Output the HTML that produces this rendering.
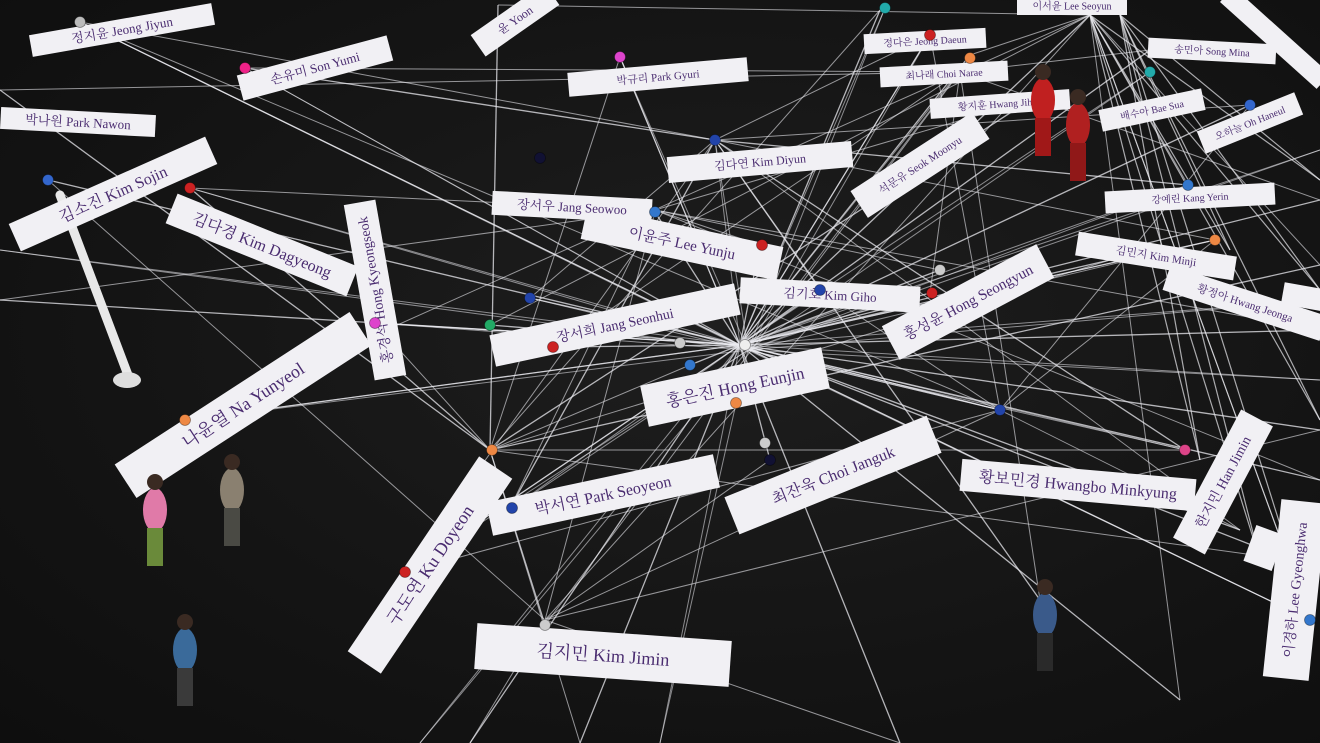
<!DOCTYPE html>
<html><head><meta charset="utf-8"><style>
html,body{margin:0;padding:0;background:#141414;}
#wrap{position:relative;width:1320px;height:743px;overflow:hidden;background:radial-gradient(ellipse at 55% 45%,#1e1e1e 0%,#141414 60%,#0e0e0e 100%);}
svg{position:absolute;left:0;top:0;}
</style></head><body>
<div id="wrap">
<svg id="s" width="1320" height="743" viewBox="0 0 1320 743"></svg>
</div>
<script>
const labelText=["정지윤 Jeong Jiyun","손유미 Son Yumi","박나원 Park Nawon","김소진 Kim Sojin","김다경 Kim Dagyeong","홍경석 Hong Kyeongseok","나윤열 Na Yunyeol","구도연 Ku Doyeon","김지민 Kim Jimin","박서연 Park Seoyeon","최잔욱 Choi Janguk","홍은진 Hong Eunjin","장서희 Jang Seonhui","이윤주 Lee Yunju","장서우 Jang Seowoo","김다연 Kim Diyun","박규리 Park Gyuri","윤 Yoon","김기호 Kim Giho","홍성윤 Hong Seongyun","석문유 Seok Moonyu","정다은 Jeong Daeun","최나래 Choi Narae","황지훈 Hwang Jihun","이서윤 Lee Seoyun","송민아 Song Mina","배수아 Bae Sua","오하늘 Oh Haneul","강예린 Kang Yerin","김민지 Kim Minji","황정아 Hwang Jeonga","","황보민경 Hwangbo Minkyung","한지민 Han Jimin","이경하 Lee Gyeonghwa","",""];
const labelCx=[122,315,78,113,262,375,243,430,603,603,833,735,615,682,572,760,658,515,830,968,920,925,944,1000,1072,1212,1152,1250,1190,1156,1245,1305,1078,1223,1295,1275,1264];
const labelCy=[30,68,122,194,245,290,405,565,655,495,475,387,325,243,207,162,77,20,295,302,165,41,74,104,6,51,110,123,198,256,303,297,485,482,590,38,548];
const labelW=[185,155,155,215,195,178,280,235,255,232,218,185,250,200,160,185,180,90,180,175,145,122,128,140,110,128,105,105,170,160,165,45,235,145,178,130,38];
const labelH=[22,26,22,30,32,32,40,40,46,34,40,42,32,34,24,26,24,26,26,38,32,20,20,20,18,20,22,24,22,24,26,22,32,36,46,20,30];
const labelRot=[-10,-15,3,-24,22,-100,-33,-56,4,-12,-22,-12,-12,12,3,-5,-5,-35,3,-28,-33,-3,-3,-4,0,3,-12,-22,-3,9,18,10,5,-62,-84,42,-70];
const labelFont=[13,13,13,16,16,14,18,18,18,16,16,17,14,15,13,12,11,12,13,15,11,10,10,10,10,10,10,10,10,11,11,10,16,14,14,10,10];

const hubs=[[740,345],[715,140],[1090,15],[490,450],[545,620],[655,210],[960,72],[1000,410]];
const lineEnds=[[80,22],[245,68],[190,188],[48,180],[375,323],[185,420],[405,572],[545,625],[510,508],[770,460],[690,365],[490,325],[530,298],[555,347],[760,245],[655,212],[620,57],[498,5],[820,290],[930,293],[940,270],[1000,410],[1185,450],[1310,620],[1215,240],[1320,200],[1320,330],[1320,430],[1290,560],[1188,185],[1250,105],[1150,50],[1030,100],[1090,15],[880,10],[970,55],[930,35],[0,90],[0,300],[470,743],[580,743],[1180,700],[1240,530],[1040,600],[1320,480],[900,743],[1110,260],[1320,265]];
const hubExtra=[[80,22],[245,68],[190,188],[375,323],[185,420],[405,572],[512,508],[620,57],[715,140],[930,35],[970,58],[1150,72],[1188,185],[1215,240],[1185,450],[1310,620],[1000,410],[1320,380],[1320,300],[0,250],[660,743],[420,743],[1320,150],[885,8]];
const pins=[[80,22,"#bbb"],[245,68,"#e28"],[190,188,"#c22"],[48,180,"#36c"],[375,323,"#d4c"],[185,420,"#e84"],[405,572,"#c22"],[545,625,"#ccc"],[512,508,"#24a"],[770,460,"#113"],[765,443,"#ccc"],[690,365,"#37c"],[736,403,"#e84"],[490,325,"#2a6"],[530,298,"#24a"],[553,347,"#c22"],[762,245,"#c22"],[655,212,"#37c"],[620,57,"#d4c"],[715,140,"#24a"],[540,158,"#113"],[820,290,"#24a"],[932,293,"#c22"],[940,270,"#ccc"],[1000,410,"#24a"],[1185,450,"#d48"],[1310,620,"#37c"],[1215,240,"#e84"],[1188,185,"#37c"],[1250,105,"#36c"],[1150,72,"#2aa"],[970,58,"#e84"],[930,35,"#c22"],[885,8,"#2aa"],[492,450,"#e84"],[745,345,"#eee"],[680,343,"#ccc"]];

const S=document.getElementById('s');
const NS="http://www.w3.org/2000/svg";
function mk(t,a){const e=document.createElementNS(NS,t);for(const k in a)e.setAttribute(k,a[k]);S.appendChild(e);return e;}

lineEnds.forEach((p,i)=>{
  const h=hubs[i%3===0?0:(i%7===1?1:(i%5===2?3:0))];
  const l=mk('line',{x1:h[0],y1:h[1],x2:p[0],y2:p[1],stroke:'rgba(235,235,240,0.75)','stroke-width':1.3});
  
  
});
hubExtra.forEach(p=>{
  [[740,345],[748,350]].forEach(h=>{
    const l=mk('line',{x1:h[0],y1:h[1],x2:p[0],y2:p[1],stroke:'rgba(235,235,240,0.55)','stroke-width':1});
    
    
  });
});
hubs.slice(1).forEach((h,j)=>{
  lineEnds.forEach((p,i)=>{
    if((i+j)%6!==0)return;
    const l=mk('line',{x1:h[0],y1:h[1],x2:p[0],y2:p[1],stroke:'rgba(235,235,240,0.6)','stroke-width':1});
    
    
  });
});
[[1090,15],[1120,15]].forEach(h=>{[[1320,290],[1310,620],[1260,560],[1200,460],[1320,420],[1320,180],[1230,250]].forEach(p=>{
  const l=mk('line',{x1:h[0],y1:h[1],x2:p[0],y2:p[1],stroke:'rgba(235,235,240,0.7)','stroke-width':1.2});
  
  
});});

const lp=mk('line',{x1:60,y1:195,x2:128,y2:375,stroke:'#e8e8e8','stroke-width':9,'stroke-linecap':'round'});


const lb=mk('ellipse',{cx:127,cy:380,rx:14,ry:8,fill:'#ddd'});



labelText.forEach((t,i)=>{
  const g=mk('g',{transform:`translate(${labelCx[i]},${labelCy[i]}) rotate(${labelRot[i]})`});
  
  
  const r=document.createElementNS(NS,'rect');
  r.setAttribute('x',-labelW[i]/2);r.setAttribute('y',-labelH[i]/2);
  r.setAttribute('width',labelW[i]);r.setAttribute('height',labelH[i]);
  r.setAttribute('fill','#f1f0f4');
  
  
  g.appendChild(r);
  if(t){
    const tx=document.createElementNS(NS,'text');
    tx.setAttribute('x',0);tx.setAttribute('y',labelFont[i]*0.35);
    tx.setAttribute('text-anchor','middle');
    tx.setAttribute('font-size',labelFont[i]);
    tx.setAttribute('fill','#4a2c70');
    tx.setAttribute('font-family','"Liberation Serif","Noto Serif CJK SC",serif');
    tx.textContent=t;
    
    
    g.appendChild(tx);
  }
});

pins.forEach(p=>{
  const c=mk('circle',{cx:p[0],cy:p[1],r:5.5,fill:p[2],stroke:'rgba(0,0,0,0.4)','stroke-width':0.8});
  
  
});

const figs=[[155,520,"#e07aa8","#6a8a3a"],[232,500,"#8a8070","#4a4a44"],[185,660,"#3a6a9a","#3a3a3a"],[1045,625,"#3a5a8a","#2a2a2a"],[1043,110,"#c02020","#a01818"],[1078,135,"#b02020","#901818"]];
figs.forEach(f=>{
  const g=mk('g',{});
  
  
  const a=document.createElementNS(NS,'ellipse');a.setAttribute('cx',f[0]);a.setAttribute('cy',f[1]-10);a.setAttribute('rx',12);a.setAttribute('ry',22);a.setAttribute('fill',f[2]);g.appendChild(a);
  const b=document.createElementNS(NS,'rect');b.setAttribute('x',f[0]-8);b.setAttribute('y',f[1]+8);b.setAttribute('width',16);b.setAttribute('height',38);b.setAttribute('fill',f[3]);g.appendChild(b);
  const h=document.createElementNS(NS,'circle');h.setAttribute('cx',f[0]);h.setAttribute('cy',f[1]-38);h.setAttribute('r',8);h.setAttribute('fill','#3a2a22');g.appendChild(h);
});
</script>
</body></html>
